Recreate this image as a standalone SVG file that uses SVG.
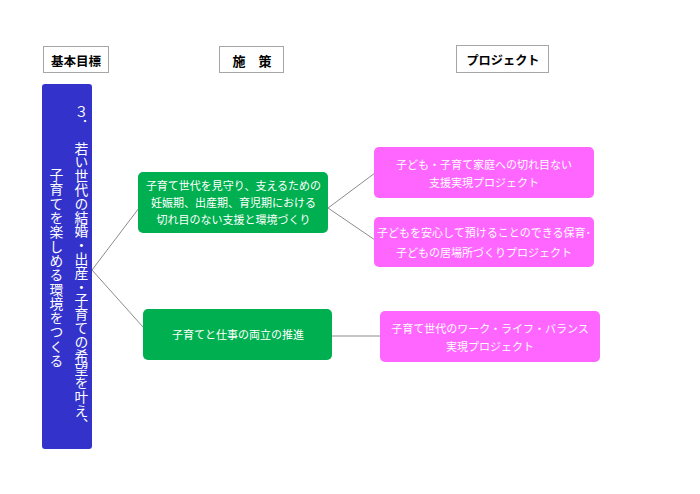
<svg xmlns="http://www.w3.org/2000/svg" width="700" height="494" viewBox="0 0 700 494">
<style>
.hdr rect{fill:#fff;stroke:#a6a6a6;stroke-width:1}
.hdr text{font-family:"Noto Sans CJK JP","Noto Sans",sans-serif;font-weight:bold;fill:#000;text-anchor:middle;dominant-baseline:central}
.g rect{fill:#00b050}
.p rect{fill:#ff66ff}
.g text,.p text{font-family:"Noto Sans CJK JP","Noto Sans",sans-serif;fill:#fff;text-anchor:middle;dominant-baseline:central;font-size:11px}
.v{font-family:"Noto Sans CJK JP","Noto Sans",sans-serif;fill:#fff;font-size:13.8px;writing-mode:vertical-rl;text-orientation:upright}
.conn line{stroke:#8c8c8c;stroke-width:1}
</style>
<rect width="700" height="494" fill="#fff"/>
<g id="h1" class="hdr"><rect x="43.5" y="46.5" width="65" height="26"/><text x="76" y="60" font-size="12.5">基本目標</text></g>
<g id="h2" class="hdr"><rect x="219.5" y="46.5" width="64" height="26"/><text x="252" y="60" font-size="13">施　策</text></g>
<g id="h3" class="hdr"><rect x="456.5" y="45.5" width="92" height="27"/><text x="503" y="60" font-size="12.2">プロジェクト</text></g>
<g id="conn" class="conn">
<line x1="92" y1="270" x2="139" y2="208"/>
<line x1="92" y1="270" x2="143" y2="327"/>
<line x1="328" y1="208" x2="375" y2="173"/>
<line x1="328" y1="208" x2="375" y2="240"/>
<line x1="332" y1="336" x2="380" y2="336"/>
</g>
<g id="goal">
<rect x="42" y="84" width="50" height="365" rx="3" fill="#3333cc"/>
<text class="v" x="81.5" y="105.5">３．<tspan y="141" letter-spacing="0">若い世代の結婚・出産・子育ての希望を叶え、</tspan></text>
<text class="v" x="56.5" y="168" letter-spacing="0.5">子育てを楽しめる環境をつくる</text>
</g>
<g id="s1" class="g"><rect x="138" y="172" width="190" height="61" rx="5"/>
<text x="233.5" y="184.5">子育て世代を見守り、支えるための</text>
<text x="233.5" y="201.5">妊娠期、出産期、育児期における</text>
<text x="233.5" y="218.5">切れ目のない支援と環境づくり</text></g>
<g id="s2" class="g"><rect x="143" y="309" width="189" height="51" rx="5"/>
<text x="238" y="333.5">子育てと仕事の両立の推進</text></g>
<g id="p1" class="p"><rect x="374" y="147" width="220" height="51" rx="5"/>
<text x="484" y="163.5">子ども・子育て家庭への切れ目ない</text>
<text x="484" y="182">支援実現プロジェクト</text></g>
<g id="p2" class="p"><rect x="374" y="217" width="220" height="50" rx="5"/>
<text x="484" y="231.5" font-size="10.7">子どもを安心して預けることのできる保育･</text>
<text x="484" y="252">子どもの居場所づくりプロジェクト</text></g>
<g id="p3" class="p"><rect x="380" y="311" width="220" height="51" rx="5"/>
<text x="490" y="327.5">子育て世代のワーク・ライフ・バランス</text>
<text x="490" y="345.5">実現プロジェクト</text></g>
</svg>
